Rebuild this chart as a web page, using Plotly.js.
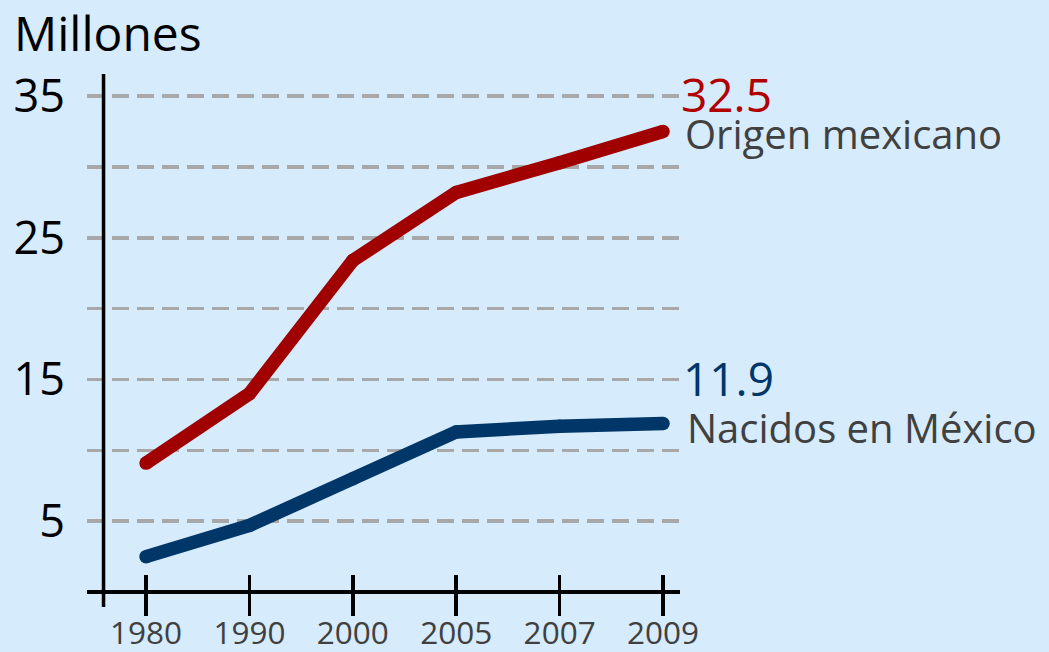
<!DOCTYPE html>
<html>
<head>
<meta charset="utf-8">
<script src="https://cdn.plot.ly/plotly-3.0.1.min.js"></script>
<style>
  html, body { margin: 0; padding: 0; background: #d6ebfb; }
  #chart { width: 1049px; height: 652px; }
</style>
</head>
<body>
<div id="chart"></div>
<script>
const years = ['1980', '1990', '2000', '2005', '2007', '2009'];
const origenMexicano = [9.1, 14.0, 23.4, 28.2, 30.3, 32.5];
const nacidosMexico = [2.5, 4.7, 8.0, 11.3, 11.7, 11.9];
const seriesNames = ['Origen mexicano', 'Nacidos en México'];
const yTickVals = [0, 5, 10, 15, 20, 25, 30, 35];
const yTickText = ['', '5', '', '15', '', '25', '', '35'];
const yTitle = 'Millones';

const RED = '#a00000';
const BLUE = '#003668';
const FONT = 'Open Sans, Liberation Sans, sans-serif';
const last = years.length - 1;

const traces = [
  {
    x: years, y: origenMexicano, name: seriesNames[0], type: 'scatter', mode: 'lines+markers',
    line: { color: RED, width: 13.5 }, marker: { color: RED, size: 13.5 }, hoverinfo: 'skip'
  },
  {
    x: years, y: nacidosMexico, name: seriesNames[1], type: 'scatter', mode: 'lines+markers',
    line: { color: BLUE, width: 13.5 }, marker: { color: BLUE, size: 13.5 }, hoverinfo: 'skip'
  }
];

const layout = {
  width: 1049, height: 652,
  margin: { l: 87, r: 369, t: 74, b: 36, pad: 0 },
  paper_bgcolor: '#d6ebfb', plot_bgcolor: '#d6ebfb',
  showlegend: false,
  font: { family: FONT },
  xaxis: {
    type: 'category', range: [-0.571, 5.164], fixedrange: true,
    showgrid: false, zeroline: false, showline: false,
    ticks: 'inside', ticklen: 41, tickwidth: 3.5, tickcolor: '#000',
    ticklabelstandoff: -5,
    tickfont: { family: FONT, size: 31.5, color: '#404040' }
  },
  yaxis: {
    range: [-1.69, 36.56], fixedrange: true,
    tickvals: yTickVals, ticktext: yTickText,
    showgrid: true, gridcolor: '#a8a8a8', gridwidth: 3.5, griddash: '17px,8px',
    zeroline: true, zerolinecolor: '#000', zerolinewidth: 3.5,
    showline: false, ticks: '', ticklabelstandoff: 21,
    tickfont: { family: FONT, size: 45, color: '#000' }
  },
  shapes: [
    { type: 'line', xref: 'x', yref: 'paper', x0: -0.411, x1: -0.411, y0: 0.0166, y1: 1,
      line: { color: '#000', width: 3.5 } }
  ],
  annotations: [
    { xref: 'paper', yref: 'paper', x: -87/593, y: 1, xanchor: 'left', yanchor: 'bottom',
      yshift: 7, xshift: 12, text: yTitle, showarrow: false,
      font: { family: FONT, size: 48, color: '#000' } },
    { xref: 'x', yref: 'y', x: last, y: origenMexicano[last], xanchor: 'left', yanchor: 'middle',
      xshift: 16, yshift: 38, text: origenMexicano[last].toFixed(1), showarrow: false,
      font: { family: FONT, size: 46, color: '#b00000' } },
    { xref: 'x', yref: 'y', x: last, y: origenMexicano[last], xanchor: 'left', yanchor: 'middle',
      xshift: 20, yshift: -2, text: seriesNames[0], showarrow: false,
      font: { family: FONT, size: 40, color: '#404040' } },
    { xref: 'x', yref: 'y', x: last, y: nacidosMexico[last], xanchor: 'left', yanchor: 'middle',
      xshift: 18, yshift: 45, text: nacidosMexico[last].toFixed(1), showarrow: false,
      font: { family: FONT, size: 46, color: BLUE } },
    { xref: 'x', yref: 'y', x: last, y: nacidosMexico[last], xanchor: 'left', yanchor: 'middle',
      xshift: 22, yshift: -4, text: seriesNames[1], showarrow: false,
      font: { family: FONT, size: 40, color: '#404040' } }
  ]
};

Plotly.newPlot('chart', traces, layout, { staticPlot: true, displayModeBar: false });
</script>
</body>
</html>
